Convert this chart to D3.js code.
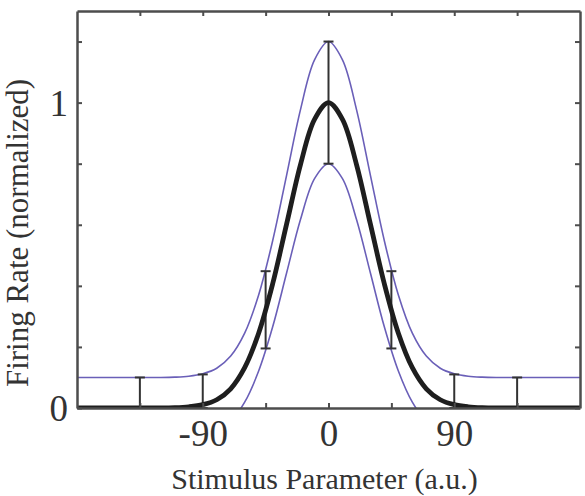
<!DOCTYPE html>
<html>
<head>
<meta charset="utf-8">
<script src="https://cdn.jsdelivr.net/npm/d3@7.9.0/dist/d3.min.js"></script>
<style>
  html, body { margin: 0; padding: 0; background: #fff; }
  svg text { font-family: "Liberation Serif", "Times New Roman", Times, serif; }
</style>
</head>
<body>
<div id="chart"></div>
<script>
// stimulus parameter (a.u.) sample points
const xs = [-180, -170, -160, -150, -140, -130, -120, -110, -100, -90, -80, -70, -60, -50, -40, -30, -20, -10,
  0, 10, 20, 30, 40, 50, 60, 70, 80, 90, 100, 110, 120, 130, 140, 150, 160, 170, 180];

// mean tuning curve (black)
const meanRate = [0, 0, 0, 0, 0, 0, 0, 0.001, 0.004, 0.011, 0.027, 0.063, 0.132, 0.245, 0.406, 0.602, 0.798, 0.945,
  1.0, 0.945, 0.798, 0.602, 0.406, 0.245, 0.132, 0.063, 0.027, 0.011, 0.004, 0.001, 0, 0, 0, 0, 0, 0, 0];

// upper bound (blue)
const upperRate = [0.1, 0.1, 0.1, 0.1, 0.1, 0.1, 0.1, 0.101, 0.104, 0.112, 0.13, 0.17, 0.245, 0.37, 0.547, 0.762, 0.978, 1.14,
  1.2, 1.14, 0.978, 0.762, 0.547, 0.37, 0.245, 0.17, 0.13, 0.112, 0.104, 0.101, 0.1, 0.1, 0.1, 0.1, 0.1, 0.1, 0.1];

// lower bound (blue), only near the peak; goes under zero and is clipped
const lowerX = [-80, -70, -60, -50, -40, -30, -20, -10, 0, 10, 20, 30, 40, 50, 60, 70, 80];
const lowerRate = [-0.076, -0.043, 0.019, 0.121, 0.265, 0.442, 0.618, 0.751, 0.8, 0.751, 0.618, 0.442, 0.265, 0.121, 0.019, -0.043, -0.076];

// error bars
const errX = [-135, -90, -45, 0, 45, 90, 135];
const errLo = [0, 0, 0.195, 0.8, 0.195, 0, 0];
const errHi = [0.1, 0.11, 0.448, 1.2, 0.448, 0.11, 0.1];

const xTicks = [-135, -90, -45, 0, 45, 90, 135];
const xLabels = [-90, 0, 90];
const yTicks = [0, 0.2, 0.4, 0.6, 0.8, 1.0, 1.2];
const yLabels = [0, 1];

const W = 585, H = 496;
const serif = "'Liberation Serif', 'Times New Roman', Times, serif";
const svg = d3.select("#chart").append("svg").attr("width", W).attr("height", H);

const x = d3.scaleLinear().domain([-180, 180]).range([77, 580]);
const y = d3.scaleLinear().domain([0, 1.3]).range([408, 11]);

svg.append("clipPath").attr("id", "plotclip")
  .append("rect")
  .attr("x", x(-180)).attr("y", y(1.3))
  .attr("width", x(180) - x(-180)).attr("height", y(0) - y(1.3));

const plot = svg.append("g").attr("clip-path", "url(#plotclip)");

const line = (xv, yv) => d3.line()
  .x((d, i) => x(xv[i]))
  .y(d => y(d))
  .curve(d3.curveCatmullRom.alpha(0.5))(yv);

const blue = "#6a5fb8";

plot.append("path").attr("d", line(xs, upperRate))
  .attr("fill", "none").attr("stroke", blue).attr("stroke-width", 1.6);
plot.append("path").attr("d", line(lowerX, lowerRate))
  .attr("fill", "none").attr("stroke", blue).attr("stroke-width", 1.6);

// error bars
const eb = plot.append("g").attr("stroke", "#333").attr("stroke-width", 2);
errX.forEach((v, i) => {
  eb.append("line").attr("x1", x(v)).attr("x2", x(v)).attr("y1", y(errLo[i])).attr("y2", y(errHi[i]));
  [errLo[i], errHi[i]].forEach(e => {
    eb.append("line").attr("x1", x(v) - 5).attr("x2", x(v) + 5).attr("y1", y(e)).attr("y2", y(e));
  });
});

plot.append("path").attr("d", line(xs, meanRate))
  .attr("fill", "none").attr("stroke", "#1e1e1e").attr("stroke-width", 4.8);

// axes box with inward ticks
const axCol = "#4d4d4d";
const fmtX = d => xLabels.includes(d) ? d : "";
const fmtY = d => yLabels.includes(d) ? d : "";

const axBottom = svg.append("g").attr("transform", `translate(0,${y(0)})`)
  .call(d3.axisBottom(x).tickValues(xTicks).tickSizeInner(-5).tickSizeOuter(0).tickPadding(8).tickFormat(fmtX));
const axTop = svg.append("g").attr("transform", `translate(0,${y(1.3)})`)
  .call(d3.axisTop(x).tickValues(xTicks).tickSizeInner(-5).tickSizeOuter(0).tickFormat(""));
const axLeft = svg.append("g").attr("transform", `translate(${x(-180)},0)`)
  .call(d3.axisLeft(y).tickValues(yTicks).tickSizeInner(-5).tickSizeOuter(0).tickPadding(9).tickFormat(fmtY));
const axRight = svg.append("g").attr("transform", `translate(${x(180)},0)`)
  .call(d3.axisRight(y).tickValues(yTicks).tickSizeInner(-5).tickSizeOuter(0).tickFormat(""));

[axBottom, axTop, axLeft, axRight].forEach(g => {
  g.attr("font-family", serif);
  g.selectAll(".domain").attr("stroke", axCol).attr("stroke-width", 2.5);
  g.selectAll(".tick line").attr("stroke", axCol).attr("stroke-width", 2);
  g.selectAll("text").attr("fill", "#333").attr("font-size", 37);
});
axBottom.selectAll("text").attr("dy", "0.8em");
axLeft.selectAll("text").attr("dy", "0.35em");

svg.append("text")
  .attr("x", (x(-180) + x(180)) / 2 - 4).attr("y", 489)
  .attr("text-anchor", "middle").attr("font-family", serif).attr("font-size", 30).attr("fill", "#333")
  .text("Stimulus Parameter (a.u.)");

svg.append("text")
  .attr("transform", `translate(28,233) rotate(-90)`)
  .attr("text-anchor", "middle").attr("font-family", serif).attr("font-size", 31).attr("fill", "#333")
  .text("Firing Rate (normalized)");
</script>
</body>
</html>
